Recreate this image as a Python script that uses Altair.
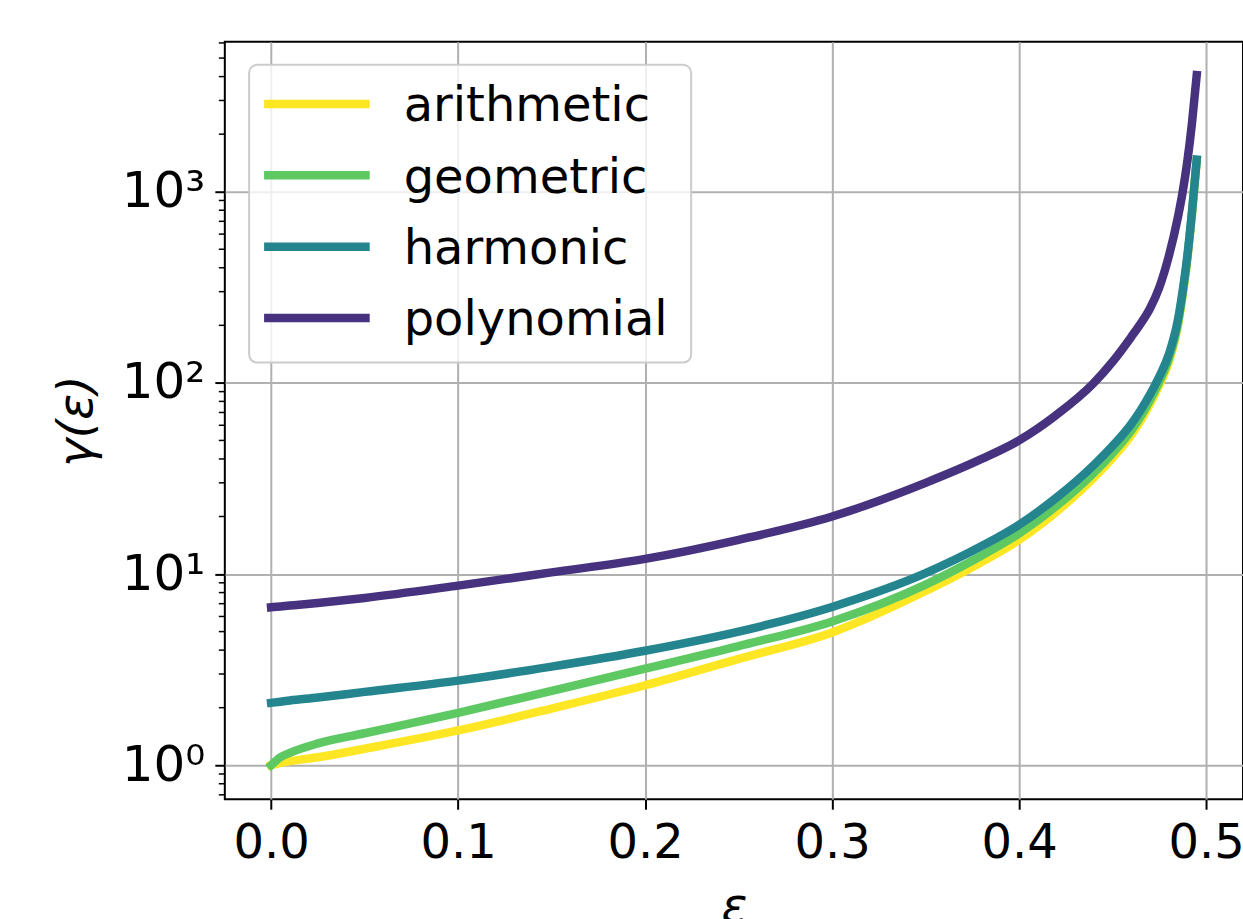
import altair as alt
import pandas as pd

# ---- data ----
eps = [0.0, 0.005, 0.01, 0.025, 0.05, 0.1, 0.15, 0.2, 0.25, 0.3, 0.35, 0.38, 0.4,
       0.42, 0.44, 0.45, 0.46, 0.465, 0.47, 0.475, 0.48, 0.485, 0.4875, 0.49, 0.4925, 0.495]

arithmetic = [1.0, 1.03, 1.05, 1.1, 1.22, 1.52, 1.98, 2.62, 3.6, 4.95, 8.15, 11.56, 15.1,
              21.2, 31.9, 40.5, 53.4, 63.4, 77.5, 97.4, 128, 200, 288, 445, 774, 1460]
geometric = [1.0, 1.1, 1.16, 1.3, 1.47, 1.88, 2.45, 3.2, 4.2, 5.65, 8.8, 12.5, 16.3,
             22.7, 33.9, 42.9, 56.3, 66.7, 81.2, 101.5, 133, 206, 294, 452, 782, 1465]
harmonic = [2.12, 2.15, 2.18, 2.26, 2.42, 2.77, 3.28, 3.97, 5.0, 6.73, 10.1, 14.0, 18.1,
            25.1, 37.2, 46.8, 61, 72, 87, 108, 140, 215, 304, 463, 791, 1470]
polynomial = [6.7, 6.77, 6.84, 7.06, 7.5, 8.7, 10.2, 12.0, 15.1, 20.0, 30.0, 40, 50,
              68, 100, 129, 174, 204, 245, 316, 457, 741, 1000, 1445, 2300, 4070]

series_names = ["arithmetic", "geometric", "harmonic", "polynomial"]
series_colors = ["#fde725", "#5ec962", "#25858e", "#46327e"]

x_ticks = [0.0, 0.1, 0.2, 0.3, 0.4, 0.5]
y_ticks = [1, 10, 100, 1000]
y_tick_labels = ["10⁰", "10¹", "10²", "10³"]
y_minor = [0.7, 0.8, 0.9,
           2, 3, 4, 5, 6, 7, 8, 9,
           20, 30, 40, 50, 60, 70, 80, 90,
           200, 300, 400, 500, 600, 700, 800, 900,
           2000, 3000, 4000, 5000, 6000]

# ---- layout ----
W, H = 1019, 758
FONT = "DejaVu Sans"
FS = 48

xscale = alt.Scale(domain=[-0.02475, 0.51975], nice=False, zero=False)
yscale = alt.Scale(type="log", domain=[0.664, 6080], nice=False)

label_expr = ("[" + ",".join(f"'{s}'" for s in y_tick_labels) + "][indexof(["
              + ",".join(str(v) for v in y_ticks) + "], datum.value)]")

xaxis = alt.Axis(values=x_ticks, format=".1f", title="ε", grid=True,
                 gridColor="#b0b0b0", gridWidth=2, domain=False,
                 ticks=True, tickColor="black", tickSize=10, tickWidth=2,
                 labelFont=FONT, labelFontSize=FS, labelColor="black", labelPadding=10,
                 labelFlush=False, labelOverlap=False,
                 titleFont=FONT, titleFontSize=FS, titleFontStyle="italic",
                 titleFontWeight="normal", titleColor="black",
                 titleY=122, titleBaseline="alphabetic")

yaxis = alt.Axis(values=y_ticks, labelExpr=label_expr, title="γ(ε)", grid=True,
                 gridColor="#b0b0b0", gridWidth=2, domain=False,
                 ticks=True, tickColor="black", tickSize=10, tickWidth=2,
                 labelFont=FONT, labelFontSize=50, labelColor="black", labelPadding=10,
                 labelFlush=False, labelOverlap=False,
                 titleFont=FONT, titleFontSize=FS, titleFontStyle="italic",
                 titleFontWeight="normal", titleColor="black",
                 titleAngle=270, titleX=-147, titleY=379,
                 titleAlign="center", titleBaseline="middle")

line_layers = []
for name, vals, col in zip(series_names, [arithmetic, geometric, harmonic, polynomial], series_colors):
    df = pd.DataFrame({"eps": eps, "gamma": vals, "series": name})
    line_layers.append(
        alt.Chart(df).mark_line(color=col, strokeWidth=8.5, strokeCap="square",
                                strokeJoin="round", interpolate="monotone", clip=True).encode(
            x=alt.X("eps:Q", scale=xscale, axis=xaxis),
            y=alt.Y("gamma:Q", scale=yscale, axis=yaxis),
        )
    )

minor_layer = alt.Chart(pd.DataFrame({"v": y_minor})).mark_rule(
    color="black", strokeWidth=1.5).encode(
    y=alt.Y("v:Q", scale=yscale, axis=yaxis),
    x=alt.value(0), x2=alt.value(-6),
)

main = alt.layer(*line_layers, minor_layer)

# ---- legend ----
legend_df = pd.DataFrame({"name": series_names})
row_scale = alt.Scale(type="point", domain=series_names, range=[62.3, 276.3], padding=0)

box = alt.Chart(pd.DataFrame({"a": [0]})).mark_rect(
    fill="white", fillOpacity=0.8, stroke="#cccccc", strokeWidth=2, cornerRadius=8).encode(
    x=alt.value(24.3), x2=alt.value(466.7), y=alt.value(23), y2=alt.value(321))

leg_lines = alt.Chart(legend_df).mark_rule(strokeWidth=8.5, strokeCap="butt").encode(
    x=alt.value(39.3), x2=alt.value(145),
    y=alt.Y("name:N", scale=row_scale, axis=None),
    color=alt.Color("name:N", scale=alt.Scale(domain=series_names, range=series_colors),
                    legend=None),
)

leg_text = alt.Chart(legend_df).mark_text(
    align="left", baseline="alphabetic", dy=17.4, fontSize=FS, font=FONT, color="black").encode(
    x=alt.value(179),
    y=alt.Y("name:N", scale=row_scale, axis=None),
    text="name:N",
)

legend = alt.layer(box, leg_lines, leg_text)

chart = alt.layer(main, legend).resolve_scale(y="independent", color="independent").properties(
    width=W, height=H,
    autosize=alt.AutoSizeParams(type="none"),
    padding={"left": 225, "top": 41.5, "right": 0, "bottom": 120},
    background="white",
).configure_view(stroke="black", strokeWidth=2)

chart.save("out.html", embed_options={"renderer": "svg", "actions": False})
